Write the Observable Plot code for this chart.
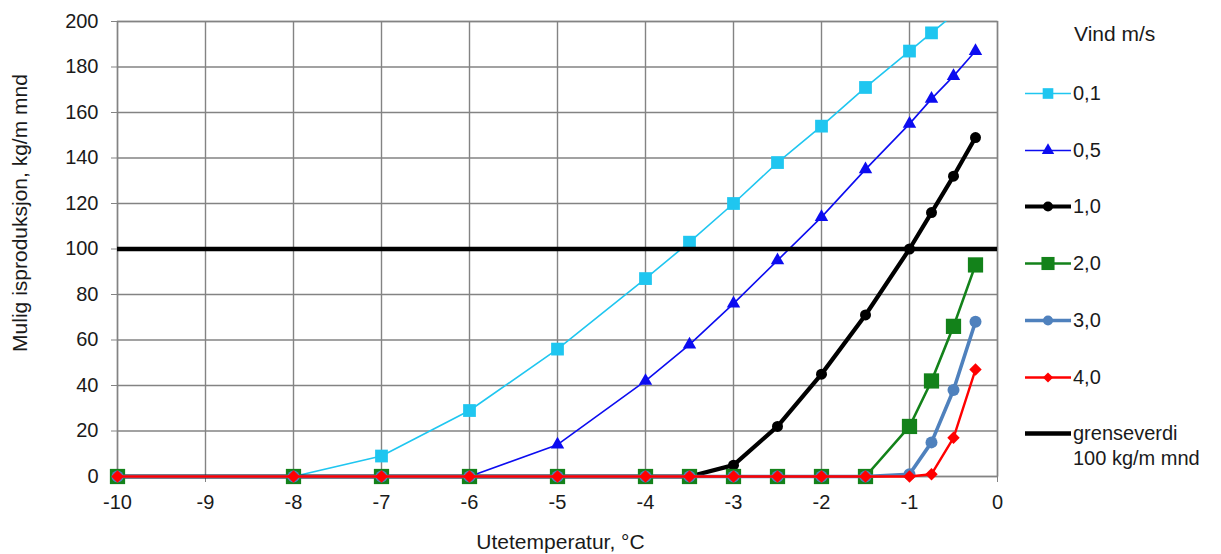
<!DOCTYPE html>
<html>
<head>
<meta charset="utf-8">
<script src="https://cdn.jsdelivr.net/npm/d3@7"></script>
<script src="https://cdn.jsdelivr.net/npm/@observablehq/plot@0.6"></script>
<style>
  html, body { margin: 0; padding: 0; background: #fff; }
  #chart { position: relative; width: 1221px; height: 554px; font-family: "Liberation Sans", Arial, sans-serif; color: #1a1a1a; }
  #legend { position: absolute; left: 1025px; top: 0; width: 196px; font-size: 20px; }
  .lg-title { position: absolute; left: 49px; top: 22px; white-space: nowrap; font-size: 21px; }
  .lg-item { position: absolute; left: 0; white-space: nowrap; display: flex; align-items: flex-start; }
  .lg-item svg { display: block; flex: none; }
  .lg-text { line-height: 25px; margin-left: 2px; }
</style>
</head>
<body>
<div id="chart"></div>
<script>
// Outdoor temperature, °C
const temps = [-10, -8, -7, -6, -5, -4, -3.5, -3, -2.5, -2, -1.5, -1, -0.75, -0.5, -0.25];

// Possible ice production (kg/m per month) for each wind speed
const wind01 = [0, 0, 9, 29, 56, 87, 103, 120, 138, 154, 171, 187, 195, 203, 211];
const wind05 = [0, 0, 0, 0, 14, 42, 58, 76, 95, 114, 135, 155, 166, 176, 187];
const wind10 = [0, 0, 0, 0, 0, 0, 0, 5, 22, 45, 71, 100, 116, 132, 149];
const wind20 = [0, 0, 0, 0, 0, 0, 0, 0, 0, 0, 0, 22, 42, 66, 93];
const wind30 = [0, 0, 0, 0, 0, 0, 0, 0, 0, 0, 0, 1, 15, 38, 68];
const wind40 = [0, 0, 0, 0, 0, 0, 0, 0, 0, 0, 0, 0, 1, 17, 47];

const windLabels = ["0,1", "0,5", "1,0", "2,0", "3,0", "4,0"];
const windValues = [wind01, wind05, wind10, wind20, wind30, wind40];

// Limit value
const threshold = 100;
const thresholdLabel = ["grenseverdi", "100 kg/m mnd"];

// Axis ticks
const xTicks = [-10, -9, -8, -7, -6, -5, -4, -3, -2, -1, 0];
const yTicks = [0, 20, 40, 60, 80, 100, 120, 140, 160, 180, 200];

// Styling per series (r: plot marker, lr: legend marker)
const styles = [
  {color: "#1fc6f0", symbol: "square",   width: 1.6, r: 7.2, lr: 6.0},
  {color: "#0c0cf0", symbol: "triangle", width: 1.6, r: 5.0, lr: 4.6},
  {color: "#000000", symbol: "circle",   width: 4.2, r: 5.5, lr: 5.0},
  {color: "#13821a", symbol: "square",   width: 2.6, r: 8.6, lr: 7.4},
  {color: "#4f81bd", symbol: "circle",   width: 3.6, r: 6.0, lr: 5.0},
  {color: "#ff0000", symbol: "diamond2", width: 2.4, r: 5.6, lr: 4.6}
];

const rows = windValues.flatMap((vals, i) =>
  temps.map((t, j) => ({temp: t, value: vals[j], wind: windLabels[i]}))
);

const gridStyle = {stroke: "#838383", strokeOpacity: 1, strokeWidth: 1.4};

const seriesMarks = windLabels.flatMap((w, i) => {
  const s = styles[i];
  const data = rows.filter(d => d.wind === w);
  const clip = i === 0; // the 0,1 curve runs past the top of the frame
  return [
    Plot.line(data, {x: "temp", y: "value", stroke: s.color, strokeWidth: s.width, clip}),
    Plot.dot(data, {x: "temp", y: "value", symbol: s.symbol, r: s.r, fill: s.color, stroke: "none", clip})
  ];
});

const plot = Plot.plot({
  width: 1221,
  height: 554,
  marginLeft: 117,
  marginRight: 224,
  marginTop: 21,
  marginBottom: 78,
  x: {domain: [-10, 0]},
  y: {domain: [0, 200]},
  style: {fontFamily: "'Liberation Sans', Arial, sans-serif", fontSize: "20px", color: "#1a1a1a", background: "#fff"},
  marks: [
    Plot.gridX(xTicks, gridStyle),
    Plot.gridY(yTicks, gridStyle),
    Plot.frame({stroke: "#838383", strokeWidth: 1.4}),
    Plot.axisX({ticks: xTicks, tickSize: 6, tickPadding: 12, tickFormat: d => String(d), label: null, stroke: "#838383", fontSize: 20}),
    Plot.axisY({ticks: yTicks, tickSize: 6, tickPadding: 13, tickFormat: d => String(d), label: null, stroke: "#838383", fontSize: 20}),
    Plot.text(["Utetemperatur, °C"], {frameAnchor: "bottom", textAnchor: "middle", dy: 66, dx: 3, fontSize: 21, lineAnchor: "middle", fill: "#1a1a1a"}),
    Plot.text(["Mulig isproduksjon, kg/m mnd"], {frameAnchor: "left", textAnchor: "middle", dx: -97, dy: -36, rotate: -90, fontSize: 21, lineAnchor: "middle", fill: "#1a1a1a"}),
    ...seriesMarks,
    Plot.ruleY([threshold], {stroke: "#000", strokeWidth: 4.6})
  ]
});

const chart = document.getElementById("chart");
chart.appendChild(plot);

// Legend at the right side
const legend = d3.select(chart).append("div").attr("id", "legend");
legend.append("div").attr("class", "lg-title").text("Vind m/s");

const symbolTypes = {square: d3.symbolSquare, triangle: d3.symbolTriangle, circle: d3.symbolCircle, diamond2: d3.symbolDiamond2};
const itemTop = i => 81 + i * 56.7;

windLabels.forEach((w, i) => {
  const s = styles[i];
  const item = legend.append("div").attr("class", "lg-item").style("top", itemTop(i) + "px");
  const svg = item.append("svg").attr("width", 46).attr("height", 25);
  svg.append("line").attr("x1", 0).attr("x2", 46).attr("y1", 12.5).attr("y2", 12.5)
    .attr("stroke", s.color).attr("stroke-width", s.width);
  svg.append("path").attr("transform", "translate(23,12.5)")
    .attr("d", d3.symbol(symbolTypes[s.symbol], Math.PI * s.lr * s.lr)())
    .attr("fill", s.color);
  item.append("div").attr("class", "lg-text").text(w);
});

{
  const item = legend.append("div").attr("class", "lg-item").style("top", itemTop(windLabels.length) + "px");
  const svg = item.append("svg").attr("width", 46).attr("height", 25);
  svg.append("line").attr("x1", 0).attr("x2", 46).attr("y1", 12.5).attr("y2", 12.5)
    .attr("stroke", "#000").attr("stroke-width", 4.6);
  item.append("div").attr("class", "lg-text").html(thresholdLabel.join("<br>"));
}
</script>
</body>
</html>
